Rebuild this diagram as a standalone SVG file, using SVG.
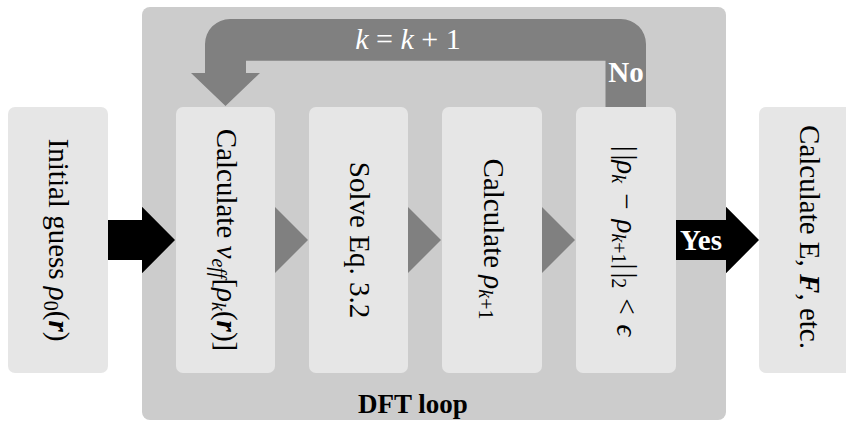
<svg xmlns="http://www.w3.org/2000/svg" width="846" height="421" viewBox="0 0 846 421">
<style>
.node{fill:#e6e6e6}
.lbl{font-family:"Liberation Serif","DejaVu Serif",serif;font-size:29px;fill:#000}
.it{font-style:italic}
.bi{font-style:italic;font-weight:bold}
.sub{font-size:20px}
.gray{fill:#808080}
.blk{fill:#000}
.wt{fill:#fff;font-family:"Liberation Serif","DejaVu Serif",serif}
.bold{font-family:"Liberation Serif","DejaVu Serif",serif;font-weight:bold}
</style>
<rect width="846" height="421" fill="#ffffff"/>
<g id="dft-loop">
<rect x="142" y="7" width="584" height="413" rx="8" fill="#cccccc"/>
<text class="bold" x="413" y="413" text-anchor="middle" font-size="27" fill="#000">DFT loop</text>
</g>
<g id="initial-guess">
<rect class="node" x="8" y="107" width="100" height="266" rx="7"/>
<text class="lbl" transform="translate(49,240) rotate(90)" text-anchor="middle">Initial guess <tspan class="it">ρ</tspan><tspan class="sub" dy="5">0</tspan><tspan dy="-5">(</tspan><tspan class="bi">r</tspan>)</text>
</g>
<g id="calc-veff">
<rect class="node" x="176" y="107" width="99" height="266" rx="7"/>
<text class="lbl" transform="translate(217,240) rotate(90)" text-anchor="middle">Calculate <tspan class="it">v</tspan><tspan class="sub it" dy="5">eff</tspan><tspan dy="-5">[</tspan><tspan class="it">ρ</tspan><tspan class="sub it" dy="5">k</tspan><tspan dy="-5">(</tspan><tspan class="bi">r</tspan>)]</text>
</g>
<g id="solve">
<rect class="node" x="309" y="107" width="99" height="266" rx="7"/>
<text class="lbl" transform="translate(350,240) rotate(90)" text-anchor="middle">Solve Eq. 3.2</text>
</g>
<g id="calc-rho">
<rect class="node" x="442" y="107" width="100" height="266" rx="7"/>
<text class="lbl" transform="translate(484,239) rotate(90)" text-anchor="middle">Calculate <tspan class="it">ρ</tspan><tspan class="sub" dy="5"><tspan class="it">k</tspan>+1</tspan></text>
</g>
<g id="convergence">
<rect class="node" x="576" y="107" width="100" height="266" rx="7"/>
<text class="lbl" transform="translate(617,241) rotate(90)" text-anchor="middle">|<tspan dx="3">|</tspan><tspan class="it">ρ</tspan><tspan class="sub it" dy="5">k</tspan><tspan dy="-5" dx="10">−</tspan><tspan dx="10" class="it">ρ</tspan><tspan class="sub" dy="5"><tspan class="it">k</tspan>+1</tspan><tspan dy="-5">|</tspan><tspan dx="3">|</tspan><tspan class="sub" dy="5">2</tspan><tspan dy="-5" dx="10">&lt;</tspan><tspan dx="10" class="it">ϵ</tspan></text>
</g>
<g id="results">
<rect class="node" x="759" y="107" width="100" height="266" rx="7"/>
<text class="lbl" transform="translate(800,237) rotate(90)" text-anchor="middle">Calculate E, <tspan class="bi">F</tspan>, etc.</text>
</g>
<g id="connectors">
<path class="blk" d="M108 220 H142 V206.7 L175 240 L142 273.3 V260 H108 Z"/>
<path class="gray" d="M275 207 L308 240 L275 273 Z"/>
<path class="gray" d="M408 207 L441 240 L408 273 Z"/>
<path class="gray" d="M542 207 L575 240 L542 273 Z"/>
<path class="blk" d="M676 220 H726 V206.7 L759 240 L726 273.3 V260 H676 Z"/>
<text class="wt" x="701" y="250" text-anchor="middle" font-size="29" font-weight="bold">Yes</text>
<path class="gray" d="M646 107 V44 A25 25 0 0 0 621 19 H230 A25 25 0 0 0 205 44 V73 H191 L225.5 106 L260 73 H246 V60.7 H605.5 V107 Z"/>
<text class="wt" x="408" y="49" text-anchor="middle" font-size="30"><tspan class="it">k</tspan> = <tspan class="it">k</tspan> + 1</text>
<text class="wt" x="626" y="82" text-anchor="middle" font-size="29" font-weight="bold">No</text>
</g>
</svg>
